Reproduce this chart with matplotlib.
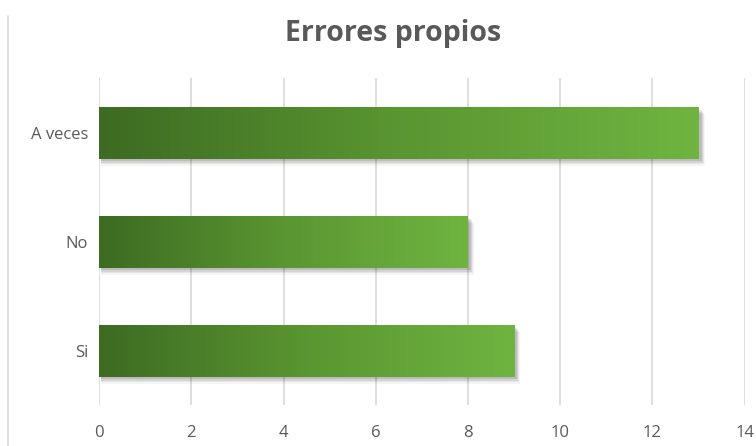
import numpy as np
import matplotlib
matplotlib.use("Agg")
import matplotlib.pyplot as plt
from matplotlib.colors import LinearSegmentedColormap
from matplotlib.patches import Rectangle
from matplotlib.lines import Line2D

categories = ["Si", "No", "A veces"]
values = [9, 8, 13]
x_ticks = [0, 2, 4, 6, 8, 10, 12, 14]
title = "Errores propios"

plt.rcParams["font.family"] = ["Open Sans", "DejaVu Sans"]

TEXT = "#595959"
GRID = "#d9d9d9"
cmap = LinearSegmentedColormap.from_list("green_grad", ["#3d6b22", "#5a9631", "#6fb441"])

fig = plt.figure(figsize=(7.56, 4.46), dpi=100)
ax = fig.add_axes([0.131, 0.091, 0.854, 0.733])

bar_h = 0.47
grad = np.linspace(0, 1, 256).reshape(1, -1)
for i, v in enumerate(values):
    # soft shadow below / right of the bar
    for k, a in enumerate([0.11, 0.08, 0.06, 0.04]):
        off = 0.025 + k * 0.013
        ax.add_patch(Rectangle((0.05, i - bar_h / 2 - off), v + 0.02 + k * 0.02, bar_h,
                               facecolor="#000000", alpha=a, edgecolor="none", zorder=2))
    ax.imshow(grad, cmap=cmap, aspect="auto", zorder=3,
              extent=[0, v, i - bar_h / 2, i + bar_h / 2])

ax.set_xlim(0, 14)
ax.set_ylim(-0.5, 2.5)
ax.set_xticks(x_ticks)
ax.set_yticks(range(len(categories)))
ax.set_yticklabels(categories)
ax.tick_params(axis="both", length=0, labelsize=12, labelcolor=TEXT)
ax.tick_params(axis="x", pad=14)
ax.tick_params(axis="y", pad=8)
ax.grid(axis="x", color=GRID, linewidth=1.2, zorder=0)
ax.set_axisbelow(True)
for s in ax.spines.values():
    s.set_visible(False)

fig.text(0.52, 0.925, title, ha="center", va="center", fontsize=20.5,
         fontweight="bold", color=TEXT)

# left chart border fragment
fig.add_artist(Line2D([0.011, 0.011], [0.0, 0.965], color=GRID, linewidth=1.2))

fig.savefig("out.png", dpi=100)
